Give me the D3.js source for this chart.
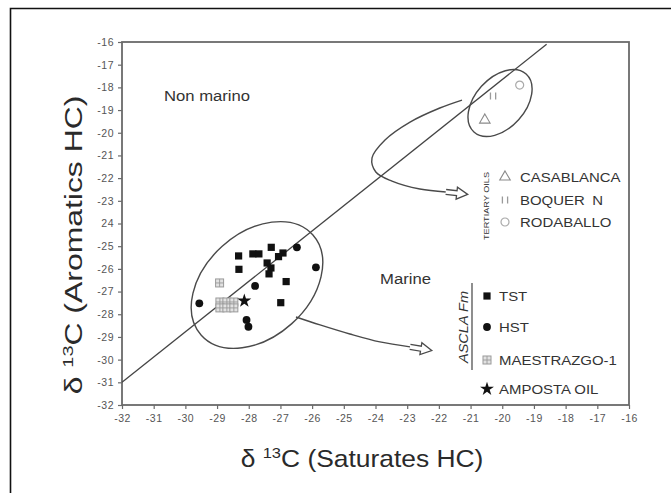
<!DOCTYPE html>
<html>
<head>
<meta charset="utf-8">
<script src="https://cdn.jsdelivr.net/npm/d3@7"></script>
<style>
  html, body { margin: 0; padding: 0; background: #fff; }
  svg { display: block; font-family: "Liberation Sans", Arial, Helvetica, sans-serif; }
</style>
</head>
<body>
<svg id="chart" width="671" height="493"></svg>
<script>
// ---- axis ticks -------------------------------------------------------
const xTickValues = [-32, -31, -30, -29, -28, -27, -26, -25, -24, -23, -22, -21, -20, -19, -18, -17, -16];
const xTickLabels = ["-32", "-31", "-30", "-29", "-28", "-27", "-26", "-25", "-24", "-23", "-22", "-21", "-20", "-19", "-18", "-17", "-16"];
const yTickValues = [-32, -31, -30, -29, -28, -27, -26, -25, -24, -23, -22, -21, -20, -19, -18, -17, -16];
const yTickLabels = ["-32", "-31", "-30", "-29", "-28", "-27", "-26", "-25", "24", "-23", "-22", "-21", "-20", "-19", "-18", "-17", "-16"];

// ---- samples: [δ13C saturates, δ13C aromatics] ------------------------
const tstPoints = [
  [-28.32, -25.43], [-27.87, -25.34], [-27.68, -25.34], [-27.29, -25.05],
  [-26.92, -25.30], [-27.06, -25.46], [-27.42, -25.74], [-27.30, -25.96],
  [-27.36, -26.22], [-28.31, -26.02], [-26.82, -26.56], [-26.99, -27.49]
];
const hstPoints = [
  [-26.48, -25.05], [-25.88, -25.93], [-27.80, -26.75],
  [-29.56, -27.52], [-28.07, -28.25], [-28.01, -28.55]
];
const maestrazgoPoints = [
  [-28.92, -26.62],
  [-28.91, -27.46], [-28.69, -27.46], [-28.47, -27.46],
  [-28.91, -27.72], [-28.69, -27.72], [-28.47, -27.72]
];
const ampostaPoints = [[-28.14, -27.41]];
const casablancaPoints = [[-20.55, -19.44]];
const boqueronPoints = [[-20.29, -18.38]];
const rodaballoPoints = [[-19.45, -17.90]];

// marine / non-marine divide
const dividerLine = [[-32, -31], [-18.6, -16.1]];

// group outlines and pointer arrows
const marineGroupCenter = [-27.74, -26.71];
const tertiaryGroupCenter = [-20.07, -18.69];
const tertiaryPointer = [
  [-21.27, -18.56], [-21.97, -18.91], [-22.91, -19.53], [-23.70, -20.32],
  [-24.11, -21.11], [-23.99, -21.73], [-23.48, -22.13], [-22.60, -22.48], [-21.78, -22.61]
];
const marinePointer = [
  [-26.51, -28.12], [-25.75, -28.47], [-24.81, -28.87], [-23.86, -29.22], [-22.91, -29.44]
];

// ---- layout -------------------------------------------------------------
const svg = d3.select("#chart");
const plot = { left: 122, right: 629, top: 42, bottom: 405 };
const SX = 1.15;             // horizontal widening of the lettering
const ink = "#333";

const x = d3.scaleLinear().domain([-32, -16]).range([plot.left, plot.right]);
const y = d3.scaleLinear().domain([-32, -16]).range([plot.bottom, plot.top]);

// outer frame (top and left edges)
svg.append("path")
  .attr("d", "M10.5,493 V8.5 H671")
  .attr("fill", "none").attr("stroke", "#111").attr("stroke-width", 1.6);

function stretchedText(parent, px, py, str, size, anchor = "start") {
  return parent.append("text")
    .attr("transform", `translate(${px},${py}) scale(${SX},1)`)
    .attr("font-size", size)
    .attr("fill", ink)
    .attr("text-anchor", anchor)
    .text(str);
}

// ---- axes ---------------------------------------------------------------
const axisColor = "#6a6a6a";
const gx = svg.append("g").attr("transform", `translate(0,${plot.bottom})`)
  .call(d3.axisBottom(x).tickValues(xTickValues)
        .tickFormat((d, i) => xTickLabels[i]).tickSize(4).tickPadding(6));
const gy = svg.append("g").attr("transform", `translate(${plot.left},0)`)
  .call(d3.axisLeft(y).tickValues(yTickValues)
        .tickFormat((d, i) => yTickLabels[i]).tickSize(4).tickPadding(4));

[gx, gy].forEach(g => {
  g.select(".domain").remove();
  g.selectAll(".tick line").attr("stroke", axisColor).attr("stroke-width", 1.2);
  g.selectAll(".tick text")
    .attr("font-size", 10.5)
    .attr("font-family", "'Liberation Sans', Arial, sans-serif")
    .attr("fill", "#555")
    .attr("letter-spacing", 0.5);
});

// frame of the plotting area
svg.append("rect")
  .attr("x", plot.left).attr("y", plot.top)
  .attr("width", plot.right - plot.left).attr("height", plot.bottom - plot.top)
  .attr("fill", "none").attr("stroke", axisColor).attr("stroke-width", 1.8);

// axis titles with superscript 13
function axisTitle(px, py, rest, rot, stretch) {
  const t = svg.append("text")
    .attr("transform", rot
      ? `translate(${px},${py}) rotate(${rot}) scale(${stretch},1)`
      : `translate(${px},${py}) scale(${stretch},1)`)
    .attr("font-size", 24)
    .attr("fill", "#2a2a2a")
    .attr("text-anchor", "middle");
  t.append("tspan").text("\u03b4 ");
  t.append("tspan").attr("font-size", 15).attr("dy", -9).text("13");
  t.append("tspan").attr("dy", 9).text("C (" + rest + ")");
}
axisTitle(362, 467, "Saturates HC", 0, 1.1);
axisTitle(82, 245, "Aromatics HC", -90, 1.33);

// ---- reference line and group outlines ------------------------------------
const lineGen = d3.line().x(d => x(d[0])).y(d => y(d[1]));
svg.append("path").attr("d", lineGen(dividerLine))
  .attr("fill", "none").attr("stroke", "#444").attr("stroke-width", 1.3);

const outline = "#4a4a4a";
function groupEllipse(center, rx, ry, angle) {
  svg.append("ellipse")
    .attr("cx", 0).attr("cy", 0).attr("rx", rx).attr("ry", ry)
    .attr("transform", `translate(${x(center[0])},${y(center[1])}) rotate(${angle})`)
    .attr("fill", "none").attr("stroke", outline).attr("stroke-width", 1.4);
}
groupEllipse(marineGroupCenter, 75, 52, -42);
groupEllipse(tertiaryGroupCenter, 39, 25, -48);

const curveGen = d3.line().x(d => x(d[0])).y(d => y(d[1])).curve(d3.curveCatmullRom.alpha(0.5));
function pointer(pts) {
  svg.append("path").attr("d", curveGen(pts))
    .attr("fill", "none").attr("stroke", outline).attr("stroke-width", 1.4);
  const a = pts[pts.length - 2], b = pts[pts.length - 1];
  const ang = Math.atan2(y(b[1]) - y(a[1]), x(b[0]) - x(a[0])) * 180 / Math.PI;
  svg.append("path")
    .attr("d", "M0,-2.5 H11 V-6 L22,0 L11,6 V2.5 H0")
    .attr("transform", `translate(${x(b[0])},${y(b[1])}) rotate(${ang})`)
    .attr("fill", "#fff").attr("stroke", outline).attr("stroke-width", 1.3)
    .attr("stroke-linejoin", "miter");
}
pointer(tertiaryPointer);
pointer(marinePointer);

// ---- field labels -----------------------------------------------------------
stretchedText(svg, 164, 101, "Non marino", 14.5);
stretchedText(svg, 380, 284, "Marine", 14.5);

// ---- marker painters ---------------------------------------------------------
const painters = {
  tst: (g) => g.append("rect").attr("x", -3.6).attr("y", -3.6).attr("width", 7.2).attr("height", 7.2).attr("fill", "#111"),
  hst: (g) => g.append("circle").attr("r", 3.9).attr("fill", "#111"),
  maestrazgo: (g) => {
    g.append("rect").attr("x", -4).attr("y", -4).attr("width", 8).attr("height", 8)
      .attr("fill", "#e2e2e2").attr("stroke", "#9a9a9a").attr("stroke-width", 1);
    g.append("path").attr("d", "M0,-4 V4 M-4,0 H4").attr("stroke", "#9a9a9a").attr("stroke-width", 0.9);
  },
  amposta: (g) => g.append("path").attr("d", d3.symbol(d3.symbolStar, 60)()).attr("fill", "#111"),
  casablanca: (g) => g.append("path").attr("d", d3.symbol(d3.symbolTriangle, 48)())
    .attr("fill", "none").attr("stroke", "#8a8a8a").attr("stroke-width", 1.1),
  boqueron: (g) => g.append("path").attr("d", "M-2.6,-3.5 V3.5 M2.6,-3.5 V3.5")
    .attr("stroke", "#9a9a9a").attr("stroke-width", 1.3),
  rodaballo: (g) => g.append("circle").attr("r", 4)
    .attr("fill", "none").attr("stroke", "#aaa").attr("stroke-width", 1.2)
};

function plotSeries(points, painter) {
  svg.append("g").selectAll("g").data(points).join("g")
    .attr("transform", d => `translate(${x(d[0])},${y(d[1])})`)
    .each(function () { painter(d3.select(this)); });
}
plotSeries(maestrazgoPoints, painters.maestrazgo);
plotSeries(tstPoints, painters.tst);
plotSeries(hstPoints, painters.hst);
plotSeries(ampostaPoints, painters.amposta);
plotSeries(casablancaPoints, painters.casablanca);
plotSeries(boqueronPoints, painters.boqueron);
plotSeries(rodaballoPoints, painters.rodaballo);

// ---- legends -------------------------------------------------------------------
const legendTertiary = [
  { key: "casablanca", label: "CASABLANCA", cy: 177 },
  { key: "boqueron", label: "BOQUER\u2002N", cy: 200 },
  { key: "rodaballo", label: "RODABALLO", cy: 222 }
];
const legendAscla = [
  { key: "tst", label: "TST", cy: 296 },
  { key: "hst", label: "HST", cy: 327 },
  { key: "maestrazgo", label: "MAESTRAZGO-1", cy: 360 },
  { key: "amposta", label: "AMPOSTA OIL", cy: 389 }
];

legendTertiary.forEach(d => {
  const g = svg.append("g").attr("transform", `translate(505,${d.cy})`);
  painters[d.key](g);
  stretchedText(svg, 520, d.cy + 5, d.label, 13);
});
legendAscla.forEach(d => {
  const g = svg.append("g").attr("transform", `translate(487,${d.cy})`);
  painters[d.key](g);
  stretchedText(svg, 499, d.cy + 5, d.label, 13);
});

// group captions (vertical)
svg.append("text")
  .attr("transform", "translate(489,206) rotate(-90)")
  .attr("font-size", 7.5).attr("fill", ink).attr("text-anchor", "middle")
  .attr("textLength", 68).attr("lengthAdjust", "spacingAndGlyphs")
  .text("TERTIARY OILS");

svg.append("text")
  .attr("transform", "translate(468,327) rotate(-90)")
  .attr("font-size", 12.5).attr("font-style", "italic").attr("fill", ink)
  .attr("text-anchor", "middle")
  .attr("textLength", 72).attr("lengthAdjust", "spacingAndGlyphs")
  .text("ASCLA Fm");
svg.append("line")
  .attr("x1", 472).attr("x2", 472).attr("y1", 283).attr("y2", 370)
  .attr("stroke", "#444").attr("stroke-width", 1.2);
</script>
</body>
</html>
